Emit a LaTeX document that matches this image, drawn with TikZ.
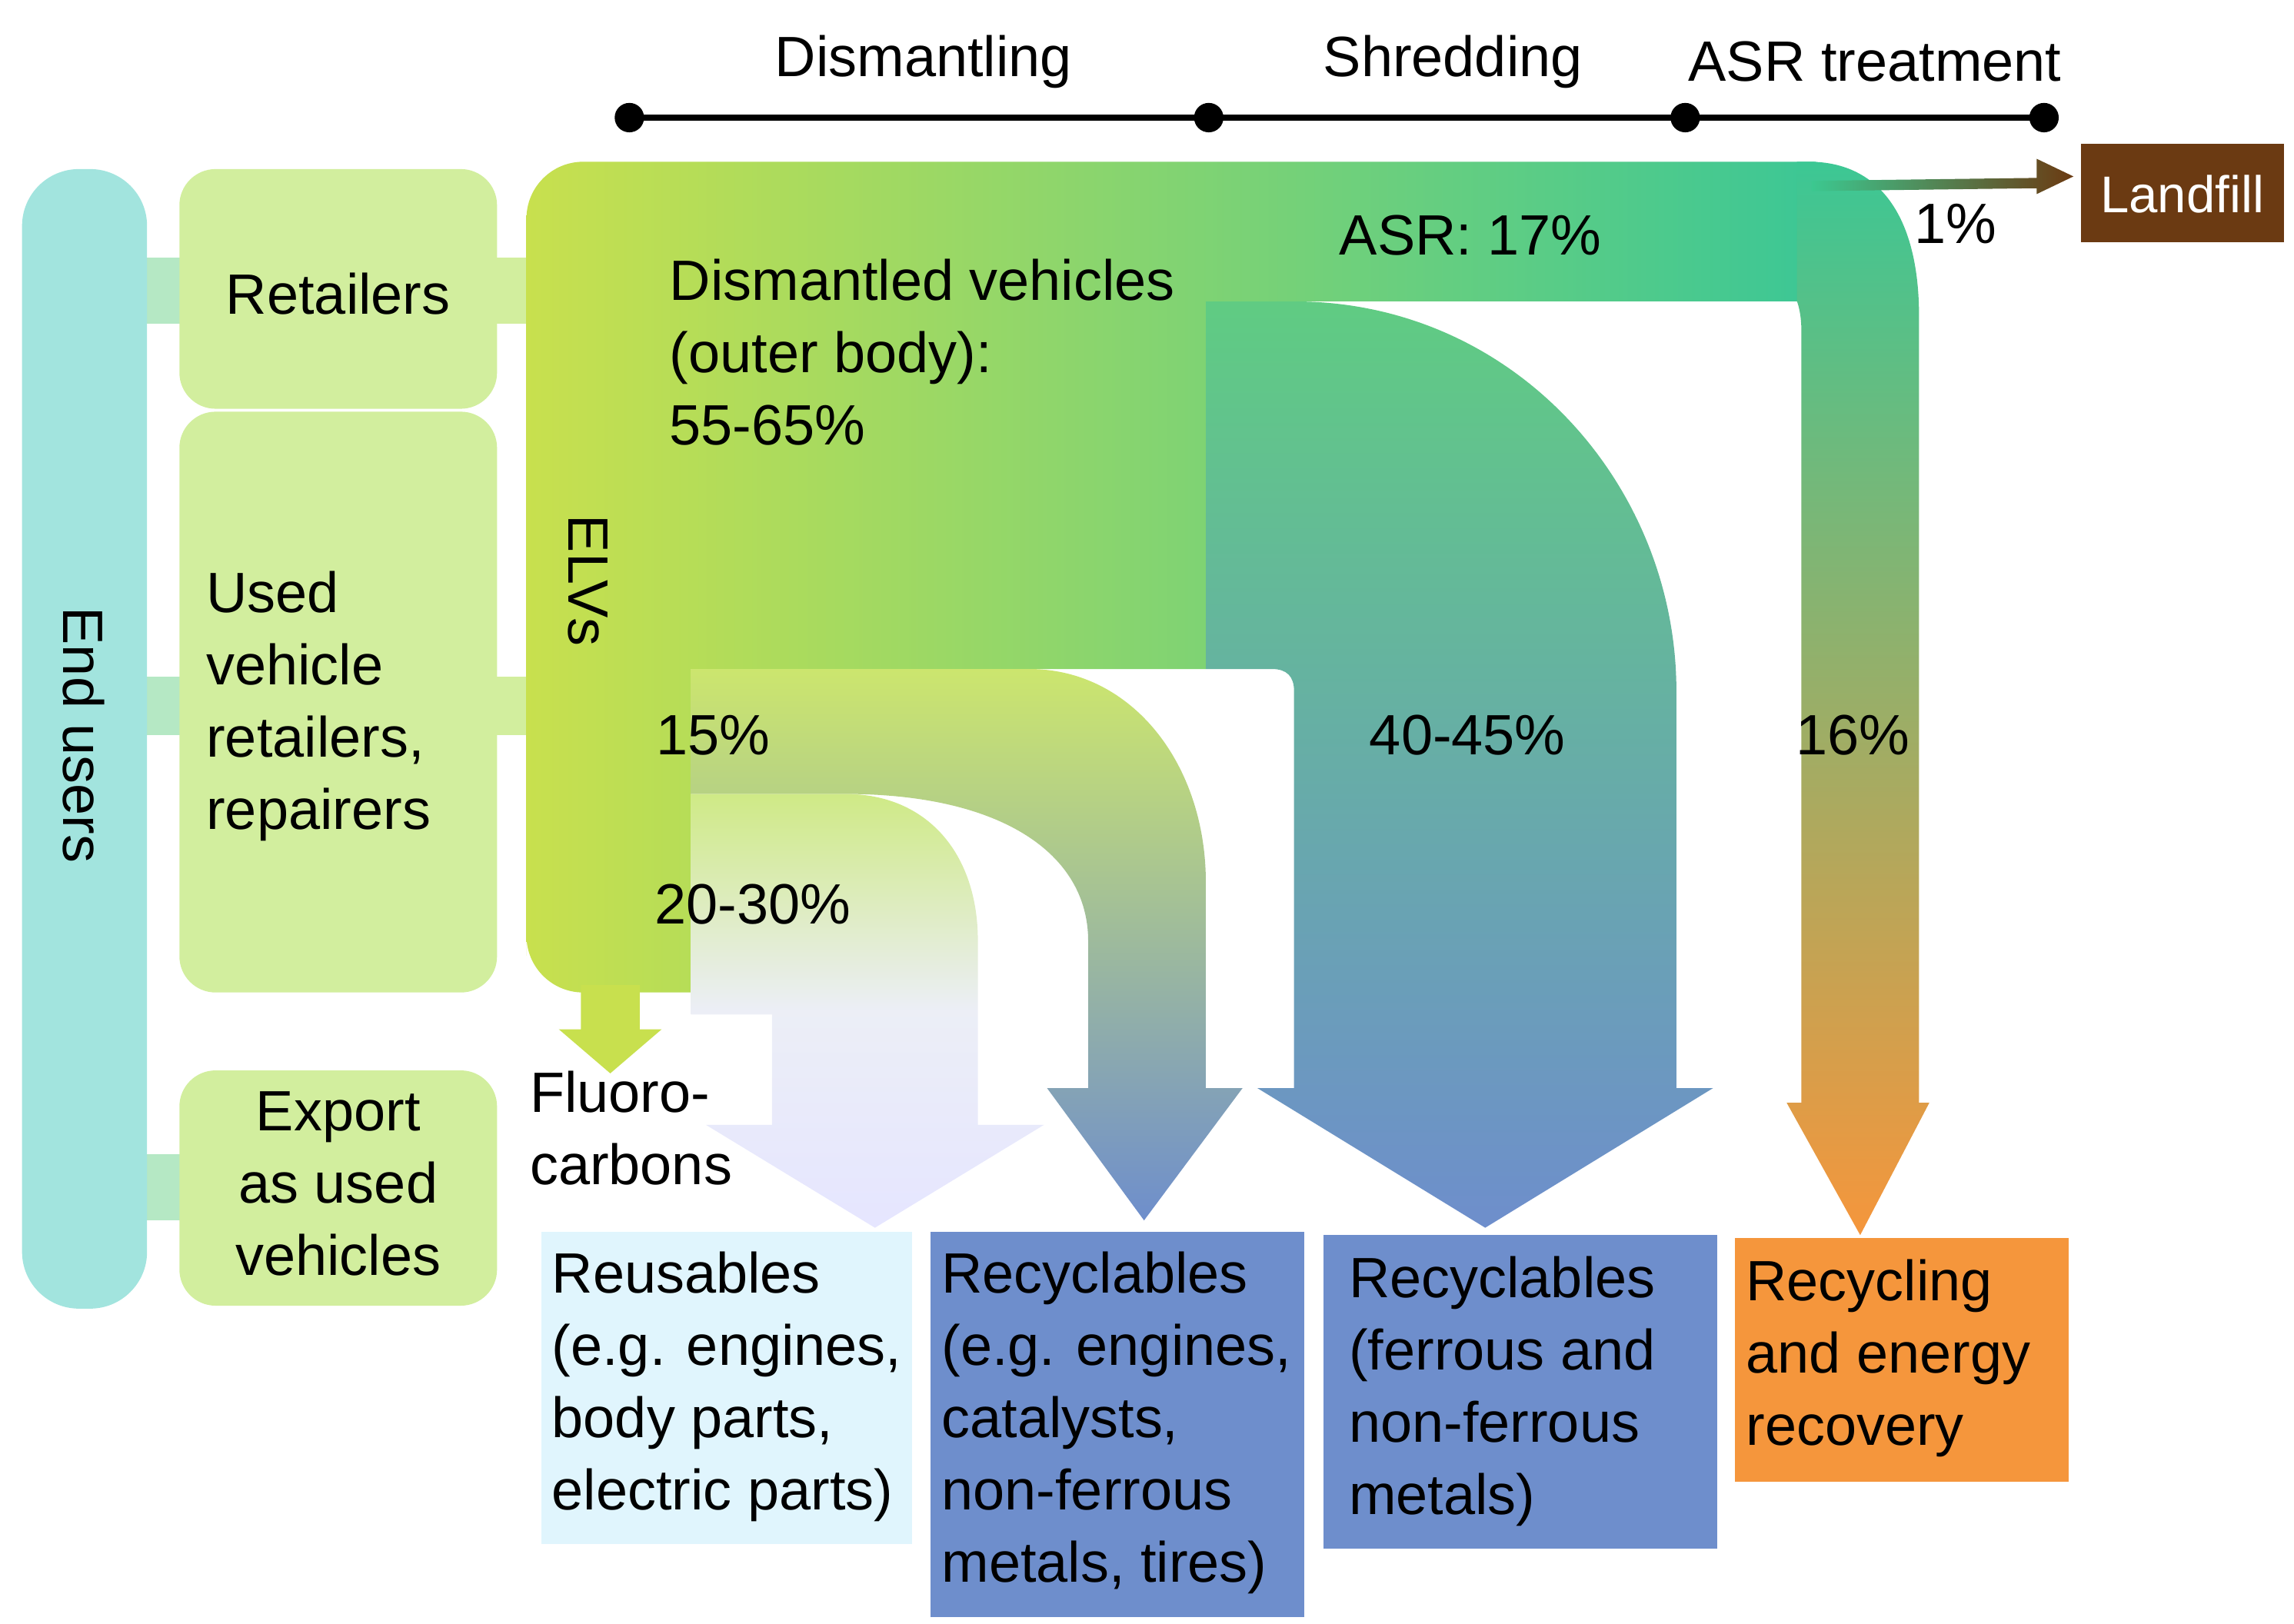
\documentclass[tikz,border=0pt]{standalone}
\usepackage{fontspec}
\setmainfont{Liberation Sans}
\begin{document}
\begin{tikzpicture}[x=0.02cm,y=-0.02cm,
  lbl/.style={font=\fontsize{22}{28}\selectfont,inner sep=0pt},
  lgreen/.style={fill=lg,rounded corners=14},
  bx/.style={lbl,anchor=north west,align=left,inner sep=0pt}]
\definecolor{lg}{HTML}{D2EE9E}
\definecolor{cy}{HTML}{A2E4DE}
\definecolor{yg}{HTML}{C8E04E}
\definecolor{gr}{HTML}{3CC890}
\definecolor{tl}{HTML}{3CBCC4}
\definecolor{bl}{HTML}{6E8ECC}
\definecolor{org}{HTML}{F5963C}
\definecolor{brn}{HTML}{6B3A12}
\useasboundingbox (0,0) rectangle (1560,1104);
% timeline
\draw[line width=2.2pt] (428,80) -- (1390,80);
\foreach \x in {428,822,1146,1390} \fill (\x,80) circle (10);
\node[lbl] (t1) at (628,42) {Dismantling};
\node[lbl] (t2) at (988,42) {Shredding};
\node[lbl] (t3) at (1275,42) {ASR treatment};
% connector strips
\fill[cy!60!lg] (95,175) rectangle (127,220);
\fill[cy!60!lg] (95,460) rectangle (127,500);
\fill[cy!60!lg] (95,785) rectangle (127,830);
\fill[lg] (333,175) rectangle (362,220);
\fill[lg] (333,460) rectangle (362,500);
% end users
\fill[cy,rounded corners=22] (15,115) rectangle (100,890);
\node[lbl,rotate=-90] (eu) at (57,500) {End users};
% left boxes
\fill[lgreen] (122,115) rectangle (338,278);
\fill[lgreen] (122,280) rectangle (338,675);
\fill[lgreen] (122,728) rectangle (338,888);
\node[lbl] (ret) at (230,200) {Retailers};
\node[bx] (uv) at (140,388) {Used\\vehicle\\retailers,\\repairers};
\node[lbl,align=center] (ex) at (230,805) {Export\\as used\\vehicles};
% 40-45 branch
\shade[top color=gr!75!yg,middle color=tl,bottom color=bl]
 (820,180) -- (880,205) .. controls (1030,205) and (1140,330) .. (1140,470)
 -- (1140,740) -- (1165,740) -- (1010,835) -- (855,740) -- (880,740)
 -- (880,470) .. controls (880,460) and (875,455) .. (865,455) -- (820,455) -- cycle;
% main region
\shade[left color=yg,middle color=gr!70!yg,right color=gr!90!tl]
 (358,650) [rounded corners=22] -- (358,110) [sharp corners] -- (1235,110) -- (1235,205) -- (820,205) -- (820,455) -- (470,455) -- (470,675) [rounded corners=22] -- (358,675) [sharp corners] -- cycle;
% 16% branch
\shade[top color=gr!92!tl,middle color=gr!45!org,bottom color=org]
 (1222,110) -- (1230,110) .. controls (1280,110) and (1305,150) .. (1305,215)
 -- (1305,750) -- (1312,750) -- (1265,840) -- (1215,750) -- (1225,750)
 -- (1225,225) .. controls (1225,212) and (1222,205) .. (1222,205) -- cycle;
% 15% branch
\shade[top color=yg!60!lg,middle color=bl!40!lg,bottom color=bl]
 (470,455) -- (700,455) .. controls (770,455) and (820,520) .. (820,600)
 -- (820,740) -- (845,740) -- (778,830) -- (712,740) -- (740,740)
 -- (740,640) .. controls (740,580) and (680,540) .. (575,540) -- (470,540) -- cycle;
% 20-30% branch
\shade[top color=lg!70!yg,bottom color=blue!10!white,middle color=lg!60!blue!15]
 (470,540) -- (575,540) .. controls (630,540) and (665,580) .. (665,640)
 -- (665,765) -- (710,765) -- (595,835) -- (480,765) -- (525,765)
 -- (525,690) -- (470,690) -- cycle;
% fluorocarbon arrow
\fill[yg] (395,670) -- (435,670) -- (435,700) -- (450,700) -- (415,730) -- (380,700) -- (395,700) -- cycle;
% landfill arrow
\shade[left color=gr,right color=brn]
 (1232,123) -- (1385,121) -- (1385,108) -- (1410,120) -- (1385,132) -- (1385,128) -- (1232,130) -- cycle;
\fill[brn] (1415,98) rectangle (1553,165);
\node[lbl,text=white,font=\fontsize{20}{24}\selectfont] (lf) at (1484,132) {Landfill};
% labels on flows
\node[lbl] (elv) at (400,395) [rotate=-90] {ELVs};
\node[bx] (dv) at (455,176) {Dismantled vehicles\\(outer body):\\55-65\%};
\node[lbl] (asr) at (1000,160) {ASR: 17\%};
\node[lbl] (p1) at (1330,152) {1\%};
\node[lbl] (p15) at (485,500) {15\%};
\node[lbl] (p20) at (512,615) {20-30\%};
\node[lbl] (p40) at (998,500) {40-45\%};
\node[lbl] (p16) at (1260,500) {16\%};
\node[bx] (fc) at (360,728) {Fluoro-\\carbons};
% bottom boxes
\fill[cyan!12!white] (368,838) rectangle (620,1050);
\fill[bl] (633,838) rectangle (887,1100);
\fill[bl] (900,840) rectangle (1168,1053);
\fill[org] (1180,842) rectangle (1407,1008);
\node[bx] (b1) at (375,851) {Reusables\\(e.g. engines,\\body parts,\\electric parts)};
\node[bx] (b2) at (640,851) {Recyclables\\(e.g. engines,\\catalysts,\\non-ferrous\\metals, tires)};
\node[bx] (b3) at (917,854) {Recyclables\\(ferrous and\\non-ferrous\\metals)};
\node[bx] (b4) at (1187,856) {Recycling\\and energy\\recovery};
\end{tikzpicture}
\end{document}
